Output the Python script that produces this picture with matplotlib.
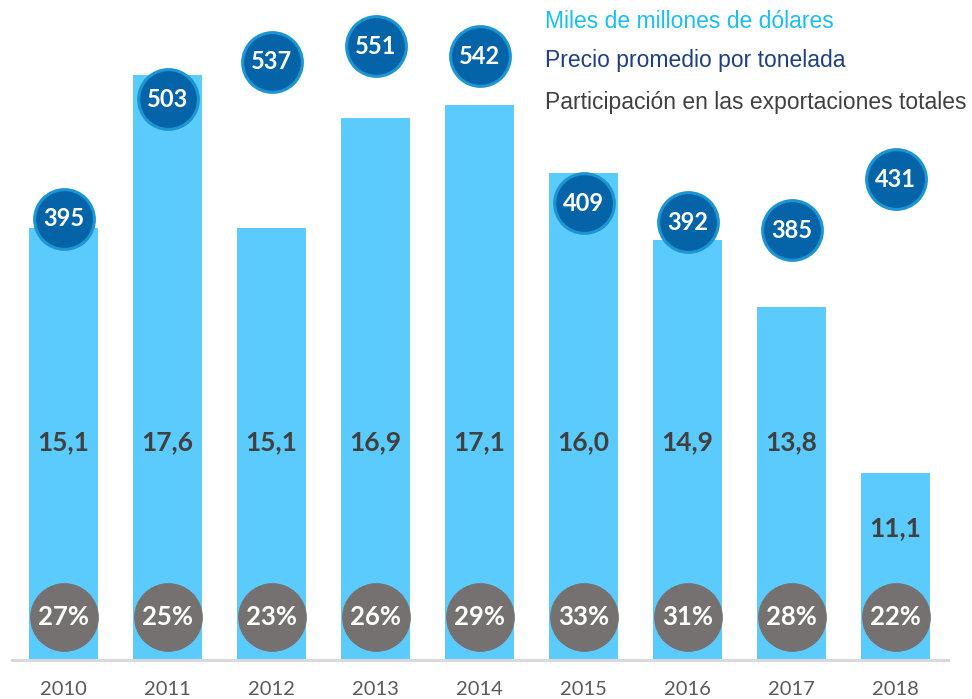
import numpy as np
import matplotlib
matplotlib.use("Agg")
import matplotlib.pyplot as plt

# Data
years = ['2010', '2011', '2012', '2013', '2014', '2015', '2016', '2017', '2018']
value_bn = [15.1, 17.6, 15.1, 16.9, 17.1, 16.0, 14.9, 13.8, 11.1]   # miles de millones USD
price_ton = [395, 503, 537, 551, 542, 409, 392, 385, 431]            # precio promedio por tonelada
share_pct = [27, 25, 23, 26, 29, 33, 31, 28, 22]                     # participacion exportaciones

# Colours
BAR_BLUE = '#5BCBFD'
DARK_BLUE = '#0563A8'
RING_BLUE = '#1B95D3'
GREY_CIRCLE = '#767171'
TEXT_DARK = '#404040'

W, H = 972, 699
fig = plt.figure(figsize=(W / 100, H / 100), dpi=100)
ax = fig.add_axes([11.5 / W, 39 / H, 936 / W, 660 / H])

x = np.arange(len(years))
ax.bar(x, value_bn, width=0.665, color=BAR_BLUE, zorder=1)
ax.set_xlim(-0.5, len(years) - 0.5)
ax.set_ylim(8.04, 18.82)
ax.axhline(8.04, color='#D9D9D9', lw=2.2, zorder=2, clip_on=False)

for s in ax.spines.values():
    s.set_visible(False)
ax.set_yticks([])
ax.set_xticks(x)
ax.set_xticklabels(years, fontsize=14.5, color='#595959', family='Lato')
ax.tick_params(axis='x', length=0, pad=15)

# value labels inside bars
for xi, v in zip(x, value_bn):
    ly = min(v - 0.9, 11.6)
    ax.text(xi, ly, f'{v:.1f}'.replace('.', ','), ha='center', va='center',
            fontsize=19, fontweight='bold', color=TEXT_DARK, family='Lato', zorder=3)

# share circles at the bottom
ax.scatter(x, [0.065] * len(x), s=2350, color=GREY_CIRCLE, zorder=3,
           transform=ax.get_xaxis_transform(), clip_on=False)
for xi, p in zip(x, share_pct):
    ax.text(xi, 0.065, f'{p}%', ha='center', va='center', fontsize=18.5,
            fontweight='bold', color='white', family='Lato', zorder=4,
            transform=ax.get_xaxis_transform())

# price circles on a secondary scale
ax2 = ax.twinx()
ax2.set_ylim(-3, 592.6)
ax2.axis('off')
ax2.scatter(x, price_ton, s=1850, color=DARK_BLUE, edgecolor=RING_BLUE,
            linewidth=2.2, zorder=5, clip_on=False)
for xi, pr in zip(x, price_ton):
    ax2.text(xi, pr, str(pr), ha='center', va='center', fontsize=17,
             fontweight='bold', color='white', family='Lato', zorder=6)

# legend-like text
fig.text(545 / W, 1 - 22 / H, 'Miles de millones de dólares', color='#1CBEF2',
         fontsize=16.5, family='Liberation Sans', va='center')
fig.text(545 / W, 1 - 61 / H, 'Precio promedio por tonelada', color='#1F3F80',
         fontsize=16.5, family='Liberation Sans', va='center')
fig.text(545 / W, 1 - 103 / H, 'Participación en las exportaciones totales', color=TEXT_DARK,
         fontsize=16.5, family='Liberation Sans', va='center')

fig.savefig('out.png', dpi=100)
